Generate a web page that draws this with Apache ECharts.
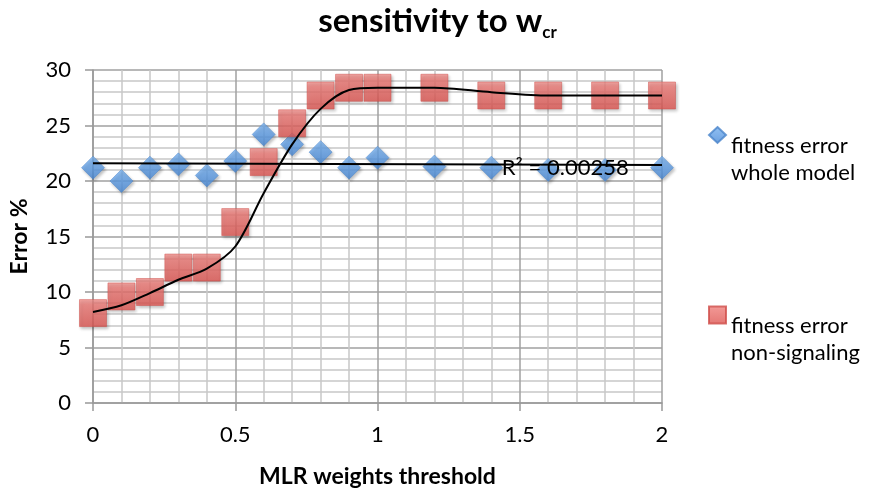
<!DOCTYPE html>
<html>
<head>
<meta charset="utf-8">
<title>sensitivity to wcr</title>
<script src="https://cdn.jsdelivr.net/npm/echarts@6/dist/echarts.min.js"></script>
<style>
  html, body { margin: 0; padding: 0; background: #ffffff; }
  #chart { width: 875px; height: 497px; }
</style>
</head>
<body>
<div id="chart"></div>
<script>
// MLR weights threshold values where the fitness error was measured
const thresholds = [0, 0.1, 0.2, 0.3, 0.4, 0.5, 0.6, 0.7, 0.8, 0.9, 1.0, 1.2, 1.4, 1.6, 1.8, 2.0];
// fitness error (%) of the whole model
const wholeModel = [21.2, 20.0, 21.2, 21.5, 20.5, 21.8, 24.2, 23.3, 22.6, 21.2, 22.1, 21.3, 21.2, 21.0, 21.0, 21.2];
// fitness error (%) of the non-signaling part
const nonSignaling = [8.1, 9.6, 10.0, 12.2, 12.2, 16.3, 21.7, 25.2, 27.7, 28.4, 28.4, 28.4, 27.7, 27.7, 27.7, 27.7];
// smoothed curve drawn through the non-signaling errors
const nonSignalingCurve = [8.2, 8.8, 9.9, 11.1, 12.1, 14.1, 18.9, 23.3, 26.5, 28.2, 28.4, 28.4, 28.0, 27.7, 27.7, 27.7];
// linear trend of the whole-model error
const trendX = [0, 2];
const trendY = [21.6, 21.45];
const rSquaredText = 'R\u00B2 = 0.00258';
const rSquaredAt = [1.66, 21.2];
// axis ranges and tick spacing
const xRange = [0, 2];
const xStep = 0.5;
const yRange = [0, 30];
const yStep = 5;
// legend entries
const seriesNames = ['fitness error whole model', 'fitness error non-signaling'];
const legendLines = {
  'fitness error whole model': ['fitness error', 'whole model'],
  'fitness error non-signaling': ['fitness error', 'non-signaling']
};

const FONT = 'Lato, "Open Sans", "DejaVu Sans", sans-serif';

const pairs = (xs, ys) => xs.map((x, i) => [x, ys[i]]);

const diamondStyle = {
  color: new echarts.graphic.LinearGradient(0, 0, 0, 1, [
    { offset: 0, color: '#78B1EE' },
    { offset: 0.5, color: '#5E9DE5' },
    { offset: 1, color: '#4787D4' }
  ]),
  borderColor: '#4A84CA',
  borderWidth: 0.6,
  shadowBlur: 3,
  shadowColor: 'rgba(0,0,0,0.3)',
  shadowOffsetX: 1.5,
  shadowOffsetY: 2
};
const squareStyle = {
  color: new echarts.graphic.LinearGradient(0, 0, 0, 1, [
    { offset: 0, color: '#F2918D' },
    { offset: 0.2, color: '#EC7874' },
    { offset: 1, color: '#DD5551' }
  ]),
  borderColor: '#CF4E4A',
  borderWidth: 0.6,
  shadowBlur: 3,
  shadowColor: 'rgba(0,0,0,0.3)',
  shadowOffsetX: 1.5,
  shadowOffsetY: 2
};

// legend text: a spacer line lifts the marker level with the first line of text
const legendText = {
  fontFamily: FONT,
  fontSize: 22,
  color: '#000',
  rich: {
    s: { fontFamily: FONT, fontSize: 10, lineHeight: 49 },
    t: { fontFamily: FONT, fontSize: 22, lineHeight: 27, color: '#000' }
  }
};
const legendFormatter = name => '{s| }\n' + legendLines[name].map(l => '{t|' + l + '}').join('\n');

const chart = echarts.init(document.getElementById('chart'), null, { renderer: 'canvas' });

chart.setOption({
  animation: false,
  backgroundColor: '#ffffff',
  title: {
    text: '{a|sensitivity to w}{b|cr}',
    left: 'center',
    top: 0,
    textStyle: {
      rich: {
        a: { fontFamily: FONT, fontSize: 33, fontWeight: 'bold', color: '#000', verticalAlign: 'bottom' },
        b: { fontFamily: FONT, fontSize: 17, fontWeight: 'bold', color: '#000', verticalAlign: 'bottom', padding: [0, 0, -3, 0] }
      }
    }
  },
  legend: [
    {
      data: [{ name: seriesNames[0], icon: 'diamond' }],
      left: 708, top: 103, padding: 0,
      itemWidth: 17, itemHeight: 16,
      formatter: legendFormatter,
      textStyle: legendText,
      selectedMode: false
    },
    {
      data: [{ name: seriesNames[1], icon: 'rect' }],
      left: 708, top: 283, padding: 0,
      itemWidth: 17, itemHeight: 17,
      formatter: legendFormatter,
      textStyle: legendText,
      selectedMode: false
    }
  ],
  grid: { left: 91, right: 213, top: 70, bottom: 94, containLabel: false },
  xAxis: {
    type: 'value',
    min: xRange[0], max: xRange[1], interval: xStep,
    name: 'MLR weights threshold',
    nameLocation: 'middle',
    nameGap: 62,
    nameTextStyle: { fontFamily: FONT, fontSize: 23, fontWeight: 'bold', color: '#000' },
    axisLine: { show: true, onZero: false, lineStyle: { color: '#999', width: 1.5 } },
    axisTick: { show: true, inside: false, length: 8, lineStyle: { color: '#999', width: 1.5 } },
    minorTick: { show: false, splitNumber: 5 },
    axisLabel: { fontFamily: FONT, fontSize: 22, color: '#000', margin: 21 },
    splitLine: { show: true, lineStyle: { color: '#a0a0a0', width: 1.5 } },
    minorSplitLine: { show: true, lineStyle: { color: '#c8c8c8', width: 1.5 } }
  },
  yAxis: {
    type: 'value',
    min: yRange[0], max: yRange[1], interval: yStep,
    name: 'Error %',
    nameLocation: 'middle',
    nameGap: 62,
    nameTextStyle: { fontFamily: FONT, fontSize: 23, fontWeight: 'bold', color: '#000' },
    axisLine: { show: true, onZero: false, lineStyle: { color: '#999', width: 1.5 } },
    axisTick: { show: true, inside: false, length: 8, lineStyle: { color: '#999', width: 1.5 } },
    minorTick: { show: false, splitNumber: 5 },
    axisLabel: { fontFamily: FONT, fontSize: 22, color: '#000', margin: 22 },
    splitLine: { show: true, lineStyle: { color: '#a0a0a0', width: 1.5 } },
    minorSplitLine: { show: true, lineStyle: { color: '#c8c8c8', width: 1.5 } }
  },
  series: [
    {
      name: seriesNames[0],
      type: 'scatter',
      symbol: 'diamond',
      symbolSize: [23, 23],
      itemStyle: diamondStyle,
      data: pairs(thresholds, wholeModel),
      silent: true
    },
    {
      name: seriesNames[1],
      type: 'scatter',
      symbol: 'rect',
      symbolSize: [27, 27],
      itemStyle: squareStyle,
      data: pairs(thresholds, nonSignaling),
      silent: true
    },
    {
      name: 'non-signaling curve',
      type: 'line',
      smooth: 0.3,
      showSymbol: false,
      symbol: 'none',
      lineStyle: { color: '#000', width: 2 },
      data: pairs(thresholds, nonSignalingCurve),
      silent: true
    },
    {
      name: 'whole model trend',
      type: 'line',
      showSymbol: false,
      symbol: 'none',
      lineStyle: { color: '#000', width: 2 },
      data: pairs(trendX, trendY),
      silent: true,
      markPoint: {
        symbol: 'circle',
        symbolSize: 0,
        silent: true,
        label: {
          show: true,
          position: 'inside',
          formatter: rSquaredText,
          fontFamily: FONT,
          fontSize: 22,
          color: '#000'
        },
        data: [{ coord: rSquaredAt }]
      }
    }
  ]
});
</script>
</body>
</html>
